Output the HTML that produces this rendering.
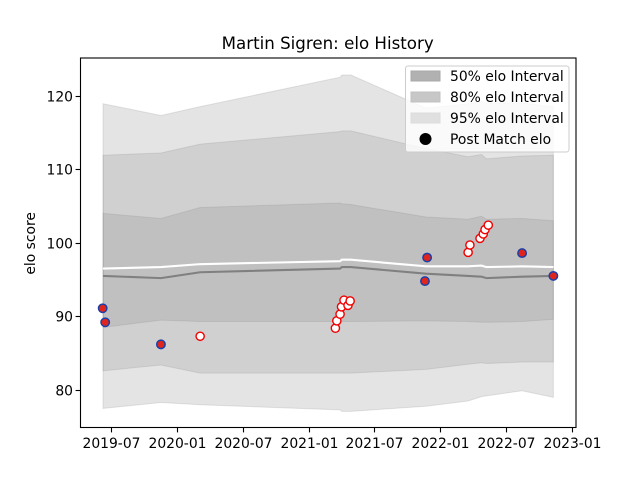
<!DOCTYPE html>
<html>
<head>
<meta charset="utf-8">
<title>Martin Sigren: elo History</title>
<style>
html,body{margin:0;padding:0;background:#fff;width:640px;height:480px;overflow:hidden}
svg{display:block}
text{font-family:"DejaVu Sans","Liberation Sans",sans-serif;fill:#000}
</style>
</head>
<body>
<svg id="chart" xmlns="http://www.w3.org/2000/svg" width="640" height="480" viewBox="0 0 640 480">
  <rect x="0" y="0" width="640" height="480" fill="#fff"/>
  <text x="327.7" y="49" font-size="16.67" text-anchor="middle">Martin Sigren: elo History</text>
  <text transform="translate(35 243.4) rotate(-90)" font-size="13.89" text-anchor="middle">elo score</text>
  <g id="bands"></g>
  <g id="lines"></g>
  <g id="points"></g>
  <g id="xticks"></g>
  <g id="yticks"></g>
  <rect x="80.5" y="58" width="495.5" height="369.5" fill="none" stroke="#000" stroke-width="1.1"/>
  <g>
    <rect x="405.5" y="66" width="163.5" height="86" rx="2.5" fill="#fff" fill-opacity="0.8" stroke="#ccc" stroke-width="1"/>
    <rect x="411" y="71" width="29" height="10" fill="#b1b1b1" stroke="#a9a9a9" stroke-width="1"/>
    <text x="450" y="81" font-size="13.89">50% elo Interval</text>
    <rect x="411" y="92" width="29" height="10" fill="#c7c7c7" stroke="#c2c2c2" stroke-width="1"/>
    <text x="450" y="102" font-size="13.89">80% elo Interval</text>
    <rect x="411" y="113" width="29" height="10" fill="#e0e0e0" stroke="#dcdcdc" stroke-width="1"/>
    <text x="450" y="123" font-size="13.89">95% elo Interval</text>
    <circle cx="425.5" cy="139" r="6" fill="#000"/>
    <text x="450" y="144" font-size="13.89">Post Match elo</text>
  </g>
</svg>
<script>
const bandDates = ["2019-06-08","2019-11-16","2020-03-04","2021-03-28","2021-04-02","2021-04-27","2021-11-22","2022-03-19","2022-04-25","2022-05-09","2022-08-16","2022-11-11"];
const upper95 = [118.9,117.3,118.5,122.5,122.8,122.8,118.3,118.9,119.2,119.0,119.0,118.5];
const lower95 = [77.5,78.3,78.0,77.3,77.1,77.1,77.8,78.5,79.1,79.2,79.9,79.0];
const upper80 = [111.9,112.2,113.4,115.1,115.2,115.2,112.8,111.7,112.0,111.4,111.8,111.9];
const lower80 = [82.6,83.4,82.3,82.3,82.3,82.3,82.8,83.5,83.7,83.6,83.8,83.8];
const upper50 = [104.0,103.3,104.8,105.4,105.3,105.2,103.5,103.2,103.6,103.2,103.3,103.0];
const lower50 = [88.5,89.5,89.3,89.3,89.3,89.3,89.4,89.3,89.2,89.2,89.3,89.6];
const meanLine = [96.5,96.7,97.1,97.5,97.7,97.7,96.8,96.8,96.9,96.7,96.8,96.7];
const medianLine = [95.5,95.2,96.0,96.5,96.7,96.7,95.8,95.5,95.4,95.2,95.4,95.5];

const wonDates = ["2019-06-07","2019-06-14","2019-11-16","2021-11-19","2021-11-25","2022-08-16","2022-11-11"];
const wonElo = [91.1,89.2,86.2,94.8,98.0,98.6,95.5];
const otherDates = ["2020-03-04","2021-03-15","2021-03-19","2021-03-28","2021-04-01","2021-04-08","2021-04-19","2021-04-25","2022-03-19","2022-03-24","2022-04-21","2022-04-30","2022-05-05","2022-05-14"];
const otherElo = [87.3,88.4,89.4,90.3,91.3,92.2,91.5,92.1,98.7,99.7,100.6,101.2,101.8,102.4];

const xTickLabels = ["2019-07","2020-01","2020-07","2021-01","2021-07","2022-01","2022-07","2023-01"];
const yTickLabels = [80,90,100,110,120];

const NS = "http://www.w3.org/2000/svg";
const DAY = 86400000;
const xOrigin = Date.UTC(2019, 6, 1);

function xScale(dateText) {
  const parts = dateText.split("-").map(Number);
  const t = Date.UTC(parts[0], parts[1] - 1, parts[2] || 1);
  return 111.3 + ((t - xOrigin) / DAY) * 0.3597;
}
function yScale(value) {
  return 390 - (value - 80) * 7.36;
}
function make(tag, parentId, attrs) {
  const el = document.createElementNS(NS, tag);
  for (const key in attrs) el.setAttribute(key, attrs[key]);
  document.getElementById(parentId).appendChild(el);
  return el;
}
function bandPath(upper, lower) {
  const top = bandDates.map((d, i) => xScale(d).toFixed(2) + "," + yScale(upper[i]).toFixed(2));
  const bottom = bandDates.map((d, i) => xScale(d).toFixed(2) + "," + yScale(lower[i]).toFixed(2)).reverse();
  return top.concat(bottom).join(" ");
}
function linePoints(values) {
  return bandDates.map((d, i) => xScale(d).toFixed(2) + "," + yScale(values[i]).toFixed(2)).join(" ");
}

const band95 = make("polygon", "bands", {points: bandPath(upper95, lower95), fill: "#808080", "fill-opacity": 0.21, stroke: "#808080", "stroke-opacity": 0.2, "stroke-width": 1});


const band80 = make("polygon", "bands", {points: bandPath(upper80, lower80), fill: "#808080", "fill-opacity": 0.2, stroke: "#808080", "stroke-opacity": 0.2, "stroke-width": 1});


const band50 = make("polygon", "bands", {points: bandPath(upper50, lower50), fill: "#808080", "fill-opacity": 0.2, stroke: "#808080", "stroke-opacity": 0.2, "stroke-width": 1});



const medianEl = make("polyline", "lines", {points: linePoints(medianLine), fill: "none", stroke: "#808080", "stroke-width": 2.1});


const meanEl = make("polyline", "lines", {points: linePoints(meanLine), fill: "none", stroke: "#ffffff", "stroke-width": 2.1});



otherDates.forEach(function (d, i) {
  const p = make("circle", "points", {cx: xScale(d).toFixed(2), cy: yScale(otherElo[i]).toFixed(2), r: 4.1, fill: "#fff", stroke: "#f00000", "stroke-width": 1.4});
  
  
});
wonDates.forEach(function (d, i) {
  const p = make("circle", "points", {cx: xScale(d).toFixed(2), cy: yScale(wonElo[i]).toFixed(2), r: 4.2, fill: "#e0261c", stroke: "#1c3fa8", "stroke-width": 1.5});
  
  
});

xTickLabels.forEach(function (label) {
  const x = Math.round(xScale(label)) + 0.5;
  const tick = make("line", "xticks", {x1: x, x2: x, y1: 427.5, y2: 432.4, stroke: "#000", "stroke-width": 1.1});
  
  
  const text = make("text", "xticks", {x: x, y: 448, "font-size": 13.89, "text-anchor": "middle"});
  
  
  text.textContent = label;
});
yTickLabels.forEach(function (label) {
  const y = Math.round(yScale(label)) + 0.5;
  const tick = make("line", "yticks", {x1: 75.6, x2: 80.5, y1: y, y2: y, stroke: "#000", "stroke-width": 1.1});
  
  
  const text = make("text", "yticks", {x: 73, y: y + 5, "font-size": 13.89, "text-anchor": "end"});
  
  
  text.textContent = label;
});
</script>
</body>
</html>
